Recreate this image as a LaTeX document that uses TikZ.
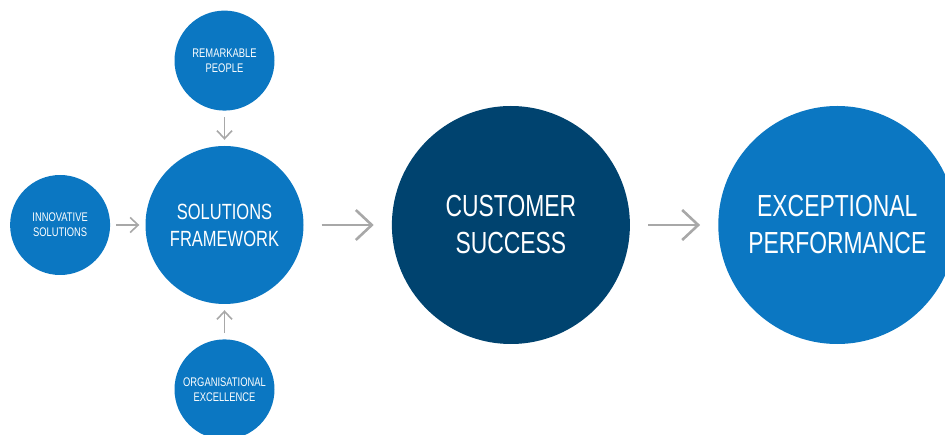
\documentclass[tikz,border=0pt]{standalone}
\usepackage{fontspec}
\setsansfont{Liberation Sans}[FakeStretch=0.75]
\usepackage{tikz}
\usetikzlibrary{arrows.meta, positioning}
\tikzset{every node/.style={font=\sffamily}}
\usepackage{xcolor}
\definecolor{azure}{HTML}{0B77C2}
\definecolor{deepnavy}{HTML}{00436F}
\definecolor{arrowgrey}{HTML}{A8A8A8}

\begin{document}
\begin{tikzpicture}[x=1pt, y=1pt, node distance=35pt,
    bubble/.style={circle, fill=azure, text=white, inner sep=0pt, align=center},
    smallbub/.style={bubble, minimum size=100pt, font=\sffamily\fontsize{12.5}{15}\selectfont},
    midbub/.style={bubble, minimum size=158pt, font=\sffamily\fontsize{22}{27}\selectfont},
    bigbub/.style={bubble, minimum size=238pt, font=\sffamily\fontsize{30.5}{37}\selectfont},
    feed/.style={draw=arrowgrey, line width=1.6pt, -{Straight Barb[length=8pt, width=15pt]}, shorten <=6pt, shorten >=6pt},
    flow/.style={draw=arrowgrey, line width=2.6pt, -{Straight Barb[length=16pt, width=30pt]}, shorten <=18pt, shorten >=18pt}]
    \useasboundingbox (0,0) rectangle (945,434);

    % the framework and what feeds it
    \node[midbub] (frame) at (224.5,209) {SOLUTIONS\\FRAMEWORK};
    \node[smallbub, above=of frame] (people) {REMARKABLE\\PEOPLE};
    \node[smallbub, left=of frame] (innov) {INNOVATIVE\\SOLUTIONS};
    \node[smallbub, below=of frame] (excel) {ORGANISATIONAL\\EXCELLENCE};

    % results
    \node[bigbub, fill=deepnavy, right=88pt of frame] (cust) {CUSTOMER\\SUCCESS};
    \node[bigbub, right=88pt of cust] (perf) {EXCEPTIONAL\\PERFORMANCE};

    \draw[feed] (people) -- (frame);
    \draw[feed] (innov) -- (frame);
    \draw[feed] (excel) -- (frame);
    \draw[flow] (frame) -- (cust);
    \draw[flow] (cust) -- (perf);
  \end{tikzpicture}
\end{document}
